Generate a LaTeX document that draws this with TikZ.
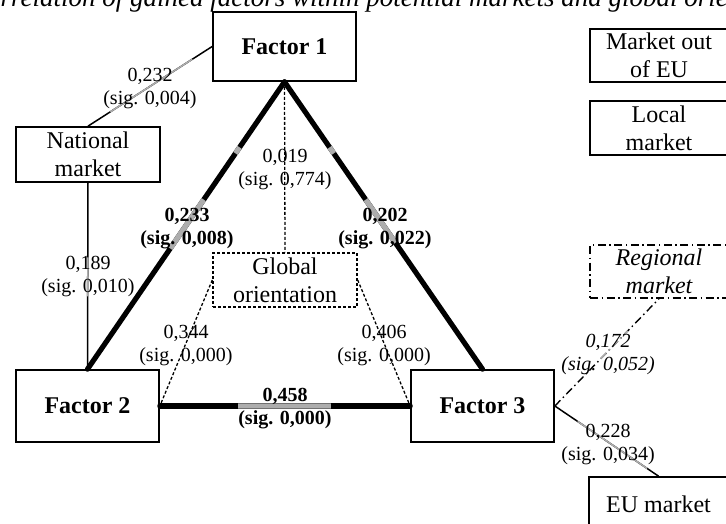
\documentclass[tikz,border=0pt]{standalone}
\usepackage{fontspec}
\setmainfont{Liberation Serif}
\begin{document}
\begin{tikzpicture}[x=1pt,y=-1pt,
  box/.style={draw, line width=1.7pt, inner sep=0pt, align=center, font=\fontsize{24}{28}\selectfont},
  facbox/.style={box, font=\fontsize{24}{28}\selectfont\bfseries, minimum width=143pt, minimum height=72pt},
  lbl/.style={inner sep=0pt, align=center, font=\fontsize{20}{23}\selectfont},
  boldlbl/.style={lbl, font=\fontsize{20}{23}\selectfont\bfseries},
  itlbl/.style={lbl, font=\fontsize{20}{23}\selectfont\itshape},
  heavy/.style={line width=5.2pt, line cap=round},
  thin/.style={line width=1.5pt},
  dashedthin/.style={line width=1.3pt, dash pattern=on 3pt off 2pt},
  dashdotthin/.style={line width=1.4pt, dash pattern=on 8pt off 3.5pt on 1.5pt off 3.5pt},
  grayseg/.style={draw=black!32, line cap=butt}
]
\useasboundingbox (0,0) rectangle (726,524);

% title (cropped by the page edge, as in the reference)
\node[anchor=base west, inner sep=0pt, font=\fontsize{27}{30}\selectfont\itshape] (title) at (-31,7)
  {Correlation of gained factors within potential markets and global orientation};

% boxes
\node[facbox, minimum height=69pt] (F1) at (284.5,46.5) {Factor 1};
\node[facbox] (F2) at (87.5,406) {Factor 2};
\node[facbox] (F3) at (482.5,406) {Factor 3};
\node[box, minimum width=144pt, minimum height=55pt] (NM) at (88,154.5) {National\\market};
\node[box, dash pattern=on 3pt off 2pt, line width=1.4pt, minimum width=144pt, minimum height=54pt] (GO) at (285,280) {Global\\orientation};
\node[box, minimum width=138pt, minimum height=53pt] (MO) at (659,55.5) {Market out\\of EU};
\node[box, minimum width=138pt, minimum height=54pt] (LM) at (659,128) {Local\\market};
\node[box, dashdotthin, font=\fontsize{24}{28}\selectfont\itshape, minimum width=138pt, minimum height=53pt] (RM) at (659,271.5) {Regional\\market};
\node[box, minimum width=139pt, minimum height=54pt] (EU) at (658.5,504) {EU market};

% triangle
\draw[heavy] (F1.south) -- (F2.north);
\draw[heavy] (F1.south) -- (F3.north);
\draw[heavy] (F2.east) -- (F3.west);
\path (F1.south) -- (F2.north) coordinate[pos=0.228] (a1) coordinate[pos=0.249] (a2)
                               coordinate[pos=0.41] (a3) coordinate[pos=0.58] (a4);
\path (F1.south) -- (F3.north) coordinate[pos=0.228] (b1) coordinate[pos=0.249] (b2)
                               coordinate[pos=0.41] (b3) coordinate[pos=0.56] (b4);
\path (F2.east) -- (F3.west) coordinate[pos=0.313] (c1) coordinate[pos=0.683] (c2);
\draw[grayseg, line width=5.2pt] (a1) -- (a2) (a3) -- (a4) (b1) -- (b2) (b3) -- (b4) (c1) -- (c2);

% global orientation links
\draw[dashedthin] (F1.south) -- (GO.north);
\draw[dashedthin] (GO.west) -- (F2.east);
\draw[dashedthin] (GO.east) -- (F3.west);

% market links
\draw[thin] (NM.north) -- (F1.west);
\path (NM.north) -- (F1.west) coordinate[pos=0.18] (d1) coordinate[pos=0.84] (d2);
\draw[grayseg, line width=1.5pt] (d1) -- (d2);
\draw[thin] (NM.south) -- (F2.north);
\path (NM.south) -- (F2.north) coordinate[pos=0.4] (e1) coordinate[pos=0.61] (e2);
\draw[grayseg, line width=1.5pt] (e1) -- (e2);
\draw[thin] (F3.east) -- (EU.north);
\path (F3.east) -- (EU.north) coordinate[pos=0.22] (f1) coordinate[pos=0.89] (f2);
\draw[grayseg, line width=1.5pt] (f1) -- (f2);
\draw[dashdotthin] (F3.east) -- (RM.south);
\path (F3.east) -- (RM.south) coordinate[pos=0.44] (g1) coordinate[pos=0.70] (g2);
\draw[grayseg, dashdotthin] (g1) -- (g2);

% labels
\node[lbl] (l232) at (150,89) {0,232\\(sig. 0,004)};
\node[lbl] (l019) at (285,170) {0,019\\(sig. 0,774)};
\node[boldlbl] (l233) at (187,228.5) {0,233\\(sig. 0,008)};
\node[boldlbl] (l202) at (385,228.5) {0,202\\(sig. 0,022)};
\node[lbl] (l189) at (88,277) {0,189\\(sig. 0,010)};
\node[lbl] (l344) at (186,346) {0,344\\(sig. 0,000)};
\node[lbl] (l406) at (384,346) {0,406\\(sig. 0,000)};
\node[boldlbl] (l458) at (285,408.5) {0,458\\(sig. 0,000)};
\node[itlbl] (l172) at (608,354) {0,172\\(sig. 0,052)};
\node[lbl] (l228) at (608,444.5) {0,228\\(sig. 0,034)};
\end{tikzpicture}
\end{document}
